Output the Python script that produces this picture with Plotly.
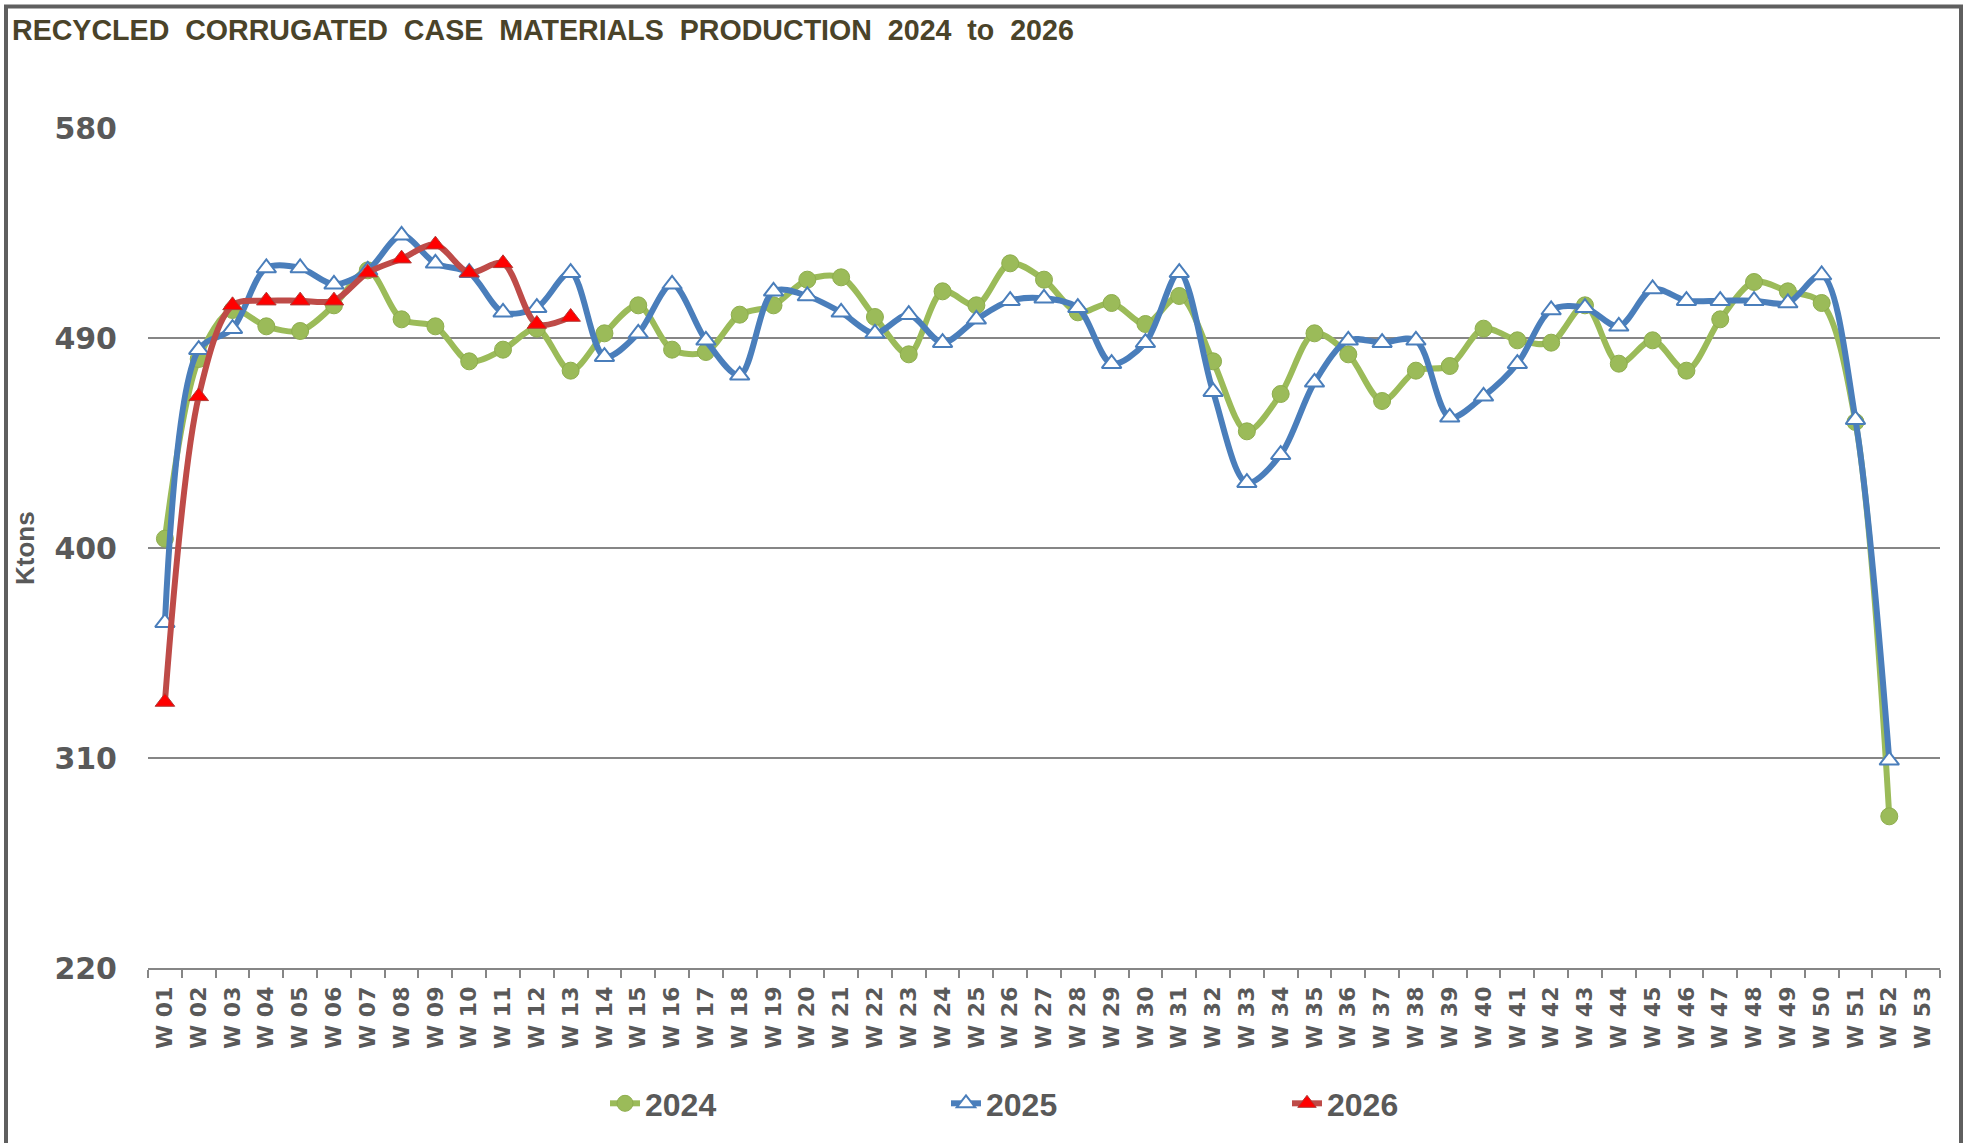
import plotly.graph_objects as go

# ─── Dados ───────────────────────────────
SEMANAS = [
    "W 01", "W 02", "W 03", "W 04", "W 05", "W 06", "W 07", "W 08", "W 09", "W 10",
    "W 11", "W 12", "W 13", "W 14", "W 15", "W 16", "W 17", "W 18", "W 19", "W 20",
    "W 21", "W 22", "W 23", "W 24", "W 25", "W 26", "W 27", "W 28", "W 29", "W 30",
    "W 31", "W 32", "W 33", "W 34", "W 35", "W 36", "W 37", "W 38", "W 39", "W 40",
    "W 41", "W 42", "W 43", "W 44", "W 45", "W 46", "W 47", "W 48", "W 49", "W 50",
    "W 51", "W 52", "W 53",
]

PROD_2024 = [
    404, 481, 502, 495, 493, 504, 519, 498, 495, 480,
    485, 494, 476, 492, 504, 485, 484, 500, 504, 515,
    516, 499, 483, 510, 504, 522, 515, 501, 505, 496,
    508, 480, 450, 466, 492, 483, 463, 476, 478, 494,
    489, 488, 504, 479, 489, 476, 498, 514, 510, 505,
    454, 285,
]

PROD_2025 = [
    368, 485, 494, 520, 520, 513, 519, 534, 522, 518,
    501, 503, 518, 482, 492, 513, 489, 474, 510, 508,
    501, 492, 500, 488, 498, 506, 507, 503, 479, 488,
    518, 467, 428, 440, 471, 489, 488, 489, 456, 465,
    479, 502, 503, 495, 511, 506, 506, 506, 505, 517,
    455, 309,
]

PROD_2026 = [334, 465, 504, 506, 506, 506, 518, 524, 530, 518, 522, 496, 499]

Y_TICKS = [220, 310, 400, 490, 580]

# ─── Estilo ───────────────────────────────
CORES = {
    "2024": "#9BBB59",
    "2025": "#4A7EBB",
    "2026": "#BE4B48",
    "texto": "#595959",
    "titulo": "#4A4329",
    "grade": "#868686",
}
FONTE = "Liberation Sans, Arial, sans-serif"
FONTE_LARGA = "DejaVu Sans, sans-serif"

W, H = 1964, 1143
ML, MR, MT, MB = 148, 24, 128, 172
PW, PH = W - ML - MR, H - MT - MB

fig = go.Figure()

fig.add_trace(
    go.Scatter(
        x=SEMANAS[: len(PROD_2024)],
        y=PROD_2024,
        name="2024",
        mode="lines+markers",
        line=dict(color=CORES["2024"], width=6, shape="spline", smoothing=0.9),
        marker=dict(symbol="circle", size=17, color=CORES["2024"],
                    line=dict(color="#8EAD4E", width=1)),
    )
)

fig.add_trace(
    go.Scatter(
        x=SEMANAS[: len(PROD_2025)],
        y=PROD_2025,
        name="2025",
        mode="lines+markers",
        line=dict(color=CORES["2025"], width=6, shape="spline", smoothing=0.9),
        marker=dict(symbol="triangle-up", size=17, color="white",
                    line=dict(color=CORES["2025"], width=2)),
    )
)

fig.add_trace(
    go.Scatter(
        x=SEMANAS[: len(PROD_2026)],
        y=PROD_2026,
        name="2026",
        mode="lines+markers",
        line=dict(color=CORES["2026"], width=6, shape="spline", smoothing=0.9),
        marker=dict(symbol="triangle-up", size=17, color="#FF0000",
                    line=dict(color="#B03A36", width=1)),
    )
)

# moldura externa do gráfico
fig.add_shape(
    type="rect",
    xref="paper", yref="paper",
    x0=(6 - ML) / PW, x1=(1961 - ML) / PW,
    y0=(H - MB - 1160) / PH, y1=(H - MB - 6) / PH,
    line=dict(color="#5F5F5F", width=4),
    fillcolor="rgba(0,0,0,0)",
    layer="above",
)

# título do eixo Y
fig.add_annotation(
    text="<b>Ktons</b>",
    textangle=-90,
    xref="paper", yref="paper",
    x=(25 - ML) / PW, y=0.5,
    xanchor="center", yanchor="middle",
    showarrow=False,
    font=dict(family=FONTE, size=26, color=CORES["texto"]),
)

fig.update_layout(
    width=W,
    height=H,
    margin=dict(l=ML, r=MR, t=MT, b=MB),
    paper_bgcolor="white",
    plot_bgcolor="white",
    title=dict(
        text="<b>RECYCLED  CORRUGATED  CASE  MATERIALS  PRODUCTION  2024  to  2026</b>",
        font=dict(family=FONTE, size=28.6, color=CORES["titulo"]),
        x=12 / W, xanchor="left",
        y=1 - 30 / H, yanchor="middle",
    ),
    legend=dict(
        orientation="h",
        x=(605 - ML) / PW, xanchor="left",
        y=(H - MB - 1107) / PH, yanchor="middle",
        entrywidth=296,
        entrywidthmode="pixels",
        font=dict(family=FONTE, size=32, color=CORES["texto"], weight="bold"),
        itemsizing="trace",
    ),
)

fig.update_xaxes(
    type="category",
    categoryorder="array",
    categoryarray=SEMANAS,
    range=[-0.5, len(SEMANAS) - 0.5],
    showgrid=False,
    showline=True,
    linecolor=CORES["grade"],
    linewidth=1.5,
    ticks="outside",
    tickson="boundaries",
    ticklen=8,
    tickcolor=CORES["grade"],
    tickwidth=1.5,
    tickangle=-90,
    tickfont=dict(family=FONTE_LARGA, size=22, color=CORES["texto"], weight="bold"),
    ticklabelstandoff=8,
    zeroline=False,
)

fig.update_yaxes(
    range=[220, 580],
    tickvals=Y_TICKS,
    showgrid=True,
    gridcolor=CORES["grade"],
    gridwidth=1.5,
    zeroline=False,
    showline=False,
    ticks="",
    tickfont=dict(family=FONTE_LARGA, size=30, color=CORES["texto"], weight="bold"),
    ticklabelstandoff=30,
)

fig.write_html(
    "out.html",
    config={"displayModeBar": False},
    post_script="document.body.style.margin='0';",
)
